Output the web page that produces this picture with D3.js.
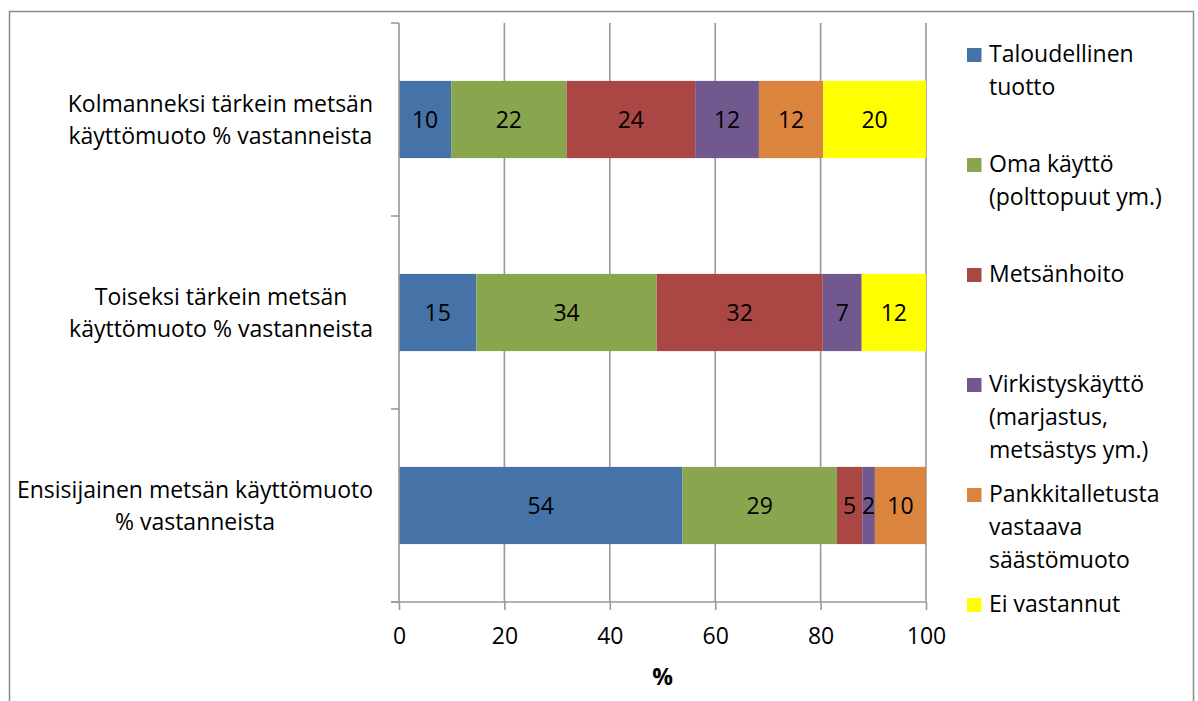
<!DOCTYPE html>
<html>
<head>
<meta charset="utf-8">
<script src="https://cdn.jsdelivr.net/npm/d3@7"></script>
<style>
  body { margin: 0; background: #fff; }
  text { font-family: "Open Sans", Lato, sans-serif; fill: #000; }
</style>
</head>
<body>
<script>
// categories, bottom to top as in the original chart
var categories = [
    ["Ensisijainen metsän käyttömuoto", "% vastanneista"],
    ["Toiseksi tärkein metsän", "käyttömuoto % vastanneista"],
    ["Kolmanneksi tärkein metsän", "käyttömuoto % vastanneista"]
];

// series values (% of respondents)
var taloudellinen = [53.8, 14.7, 9.9];
var omaKaytto     = [29.3, 34.2, 21.9];
var metsanhoito   = [4.8, 31.5, 24.4];
var virkistys     = [2.4, 7.4, 12.1];
var pankki        = [9.7, 0, 12.2];
var eiVastannut   = [0, 12.2, 19.5];

var seriesNames = [
    ["Taloudellinen", "tuotto"],
    ["Oma käyttö", "(polttopuut ym.)"],
    ["Metsänhoito"],
    ["Virkistyskäyttö", "(marjastus,", "metsästys ym.)"],
    ["Pankkitalletusta", "vastaava", "säästömuoto"],
    ["Ei vastannut"]
];
var seriesColors = ["#4572A7", "#89A54E", "#AA4643", "#71588F", "#DB843D", "#FFFF00"];

var xTicks = [0, 20, 40, 60, 80, 100];

function plotTheData() {
    var svgWidth = 1198, svgHeight = 701;
    var plot = { left: 399, right: 926, top: 23, bottom: 602 };
    var fontSize = 23;
    var gridColor = "#999";

    var svg = d3.select("body")
        .append("svg")
        .attr("width", svgWidth)
        .attr("height", svgHeight);

    // outer chart border
    svg.append("rect")
        .attr("x", 9.5).attr("y", 11.5)
        .attr("width", 1184).attr("height", 700)
        .attr("fill", "none")
        .attr("stroke", "#8c8c8c")
        .attr("stroke-width", 1.5);

    var allSeries = [taloudellinen, omaKaytto, metsanhoito, virkistys, pankki, eiVastannut];
    var keys = seriesNames.map(function (d, i) { return "s" + i; });

    // table for d3.stack
    var table = categories.map(function (c, ci) {
        var row = { idx: ci };
        allSeries.forEach(function (s, si) { row[keys[si]] = s[ci]; });
        return row;
    });

    var x = d3.scaleLinear()
        .domain([0, 100])
        .range([plot.left, plot.right]);

    // first category sits at the bottom
    var y = d3.scaleBand()
        .domain([2, 1, 0])
        .range([plot.top, plot.bottom])
        .paddingInner(0.6)
        .paddingOuter(0.3);

    // vertical gridlines
    svg.append("g")
        .selectAll("line")
        .data(xTicks.slice(1))
        .enter()
        .append("line")
        .attr("x1", function (d) { return x(d); })
        .attr("x2", function (d) { return x(d); })
        .attr("y1", plot.top)
        .attr("y2", plot.bottom)
        .attr("stroke", gridColor)
        .attr("stroke-width", 1.6);

    // stacked bars
    var stacked = d3.stack().keys(keys)(table);

    var layers = svg.append("g")
        .selectAll("g")
        .data(stacked)
        .enter()
        .append("g")
        .attr("fill", function (d, i) { return seriesColors[i]; });

    layers.selectAll("rect")
        .data(function (d) { return d; })
        .enter()
        .append("rect")
        .attr("x", function (d) { return x(d[0]); })
        .attr("width", function (d) { return x(d[1]) - x(d[0]); })
        .attr("y", function (d) { return y(d.data.idx); })
        .attr("height", y.bandwidth());

    // data labels
    layers.selectAll("text")
        .data(function (d) { return d.filter(function (p) { return p[1] - p[0] > 0; }); })
        .enter()
        .append("text")
        .attr("x", function (d) { return (x(d[0]) + x(d[1])) / 2; })
        .attr("y", function (d) { return y(d.data.idx) + y.bandwidth() / 2; })
        .attr("dy", "0.36em")
        .attr("text-anchor", "middle")
        .attr("font-size", fontSize)
        .style("fill", "#000")
        .text(function (d) { return Math.round(d[1] - d[0]); });

    // x axis
    var xAxis = svg.append("g")
        .attr("transform", "translate(0," + plot.bottom + ")")
        .call(d3.axisBottom(x).tickValues(xTicks).tickSize(8).tickPadding(18));
    xAxis.select(".domain").remove();
    xAxis.selectAll(".tick line").attr("stroke", gridColor).attr("stroke-width", 1.6);
    xAxis.selectAll(".tick text").attr("font-size", fontSize).attr("font-family", null);
    xAxis.append("line")
        .attr("x1", plot.left - 8).attr("x2", plot.right)
        .attr("stroke", gridColor).attr("stroke-width", 1.6);

    // y axis line and category ticks
    svg.append("line")
        .attr("x1", plot.left).attr("x2", plot.left)
        .attr("y1", plot.top).attr("y2", plot.bottom)
        .attr("stroke", gridColor).attr("stroke-width", 1.6);
    var bounds = [plot.top].concat(y.domain().map(function (d) { return y(d) - y.step() * 0.3 + y.step(); }));
    svg.append("g")
        .selectAll("line")
        .data(bounds)
        .enter()
        .append("line")
        .attr("x1", plot.left - 8).attr("x2", plot.left)
        .attr("y1", function (d) { return d; })
        .attr("y2", function (d) { return d; })
        .attr("stroke", gridColor).attr("stroke-width", 1.6);

    // category labels: block right aligned, lines centred in it
    var lineH = 32;
    categories.forEach(function (lines, ci) {
        var g = svg.append("g");
        var cy = y(ci) + y.bandwidth() / 2;
        var texts = g.selectAll("text")
            .data(lines)
            .enter()
            .append("text")
            .attr("font-size", fontSize)
            .attr("text-anchor", "middle")
            .attr("y", function (d, i) { return cy + (i - (lines.length - 1) / 2) * lineH; })
            .attr("dy", "0.36em")
            .text(function (d) { return d; });
        var maxW = d3.max(texts.nodes(), function (n) { return n.getComputedTextLength(); });
        texts.attr("x", 373 - maxW / 2);
    });

    // axis title
    svg.append("text")
        .attr("x", (plot.left + plot.right) / 2)
        .attr("y", 685)
        .attr("text-anchor", "middle")
        .attr("font-size", fontSize)
        .attr("font-weight", "bold")
        .text("%");

    // legend
    var legend = svg.append("g")
        .selectAll("g")
        .data(seriesNames)
        .enter()
        .append("g")
        .attr("transform", function (d, i) { return "translate(967," + (55 + i * 110) + ")"; });
    legend.append("rect")
        .attr("x", 0).attr("y", -7)
        .attr("width", 14.5).attr("height", 14)
        .attr("fill", function (d, i) { return seriesColors[i]; });
    legend.selectAll("text")
        .data(function (d) { return d; })
        .enter()
        .append("text")
        .attr("x", 22)
        .attr("y", function (d, i) { return 6.7 + i * 33; })
        .attr("font-size", fontSize)
        .text(function (d) { return d; });
}

plotTheData();
</script>
</body>
</html>
